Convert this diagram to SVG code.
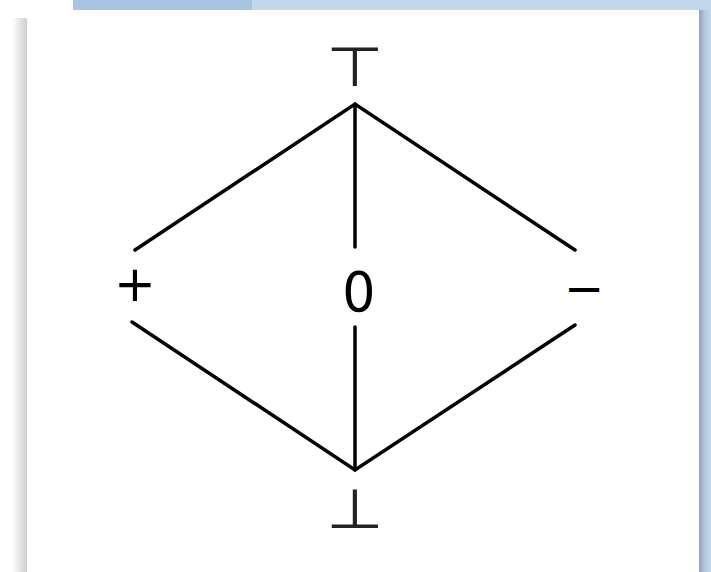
<svg xmlns="http://www.w3.org/2000/svg" width="711" height="572" viewBox="0 0 711 572">
<defs>
<linearGradient id="shL" x1="0" y1="0" x2="1" y2="0">
<stop offset="0" stop-color="#ffffff"/><stop offset="1" stop-color="#cfcfcf"/>
</linearGradient>
<linearGradient id="shR" x1="0" y1="0" x2="1" y2="0">
<stop offset="0" stop-color="#8fa3bb"/><stop offset="0.5" stop-color="#b3c9e2"/><stop offset="1" stop-color="#c3d7ec"/>
</linearGradient>
<style>
.edge{fill:none;stroke:#000;stroke-width:3.5;stroke-linecap:round;stroke-linejoin:miter}
.lbl{font-family:"DejaVu Sans",sans-serif;fill:#000;text-anchor:middle}
.sym{font-family:"DejaVu Sans",sans-serif;fill:#222;text-anchor:middle}
</style>
</defs>
<rect x="0" y="0" width="711" height="572" fill="#ffffff"/>
<rect x="73" y="0" width="179" height="10" fill="#a8c4e3"/>
<rect x="252" y="0" width="459" height="10" fill="#c3d7ec"/>
<rect x="699" y="10" width="12" height="562" fill="url(#shR)"/>
<rect x="12" y="18" width="15" height="554" fill="url(#shL)"/>
<rect x="27" y="10" width="672" height="562" fill="#ffffff"/>
<g id="connectors">
<path class="edge" d="M135,250 L355,104 L575,250"/>
<path class="edge" d="M355,104 L355,247"/>
<path class="edge" d="M132,322 L355,470 L575,325"/>
<path class="edge" d="M355,327 L355,470"/>
</g>
<g id="top"><text class="sym" x="0" y="0" font-size="55" transform="translate(355,86) scale(1.2,1)">⊤</text></g>
<g id="bottom"><text class="sym" x="0" y="0" font-size="55" transform="translate(355,528) scale(1.2,1)">⊥</text></g>
<g id="plus"><text class="lbl" x="135" y="301" font-size="50">+</text></g>
<g id="zero"><text class="lbl" x="359" y="311" font-size="55" transform="translate(359,0) scale(0.95,1) translate(-359,0)">0</text></g>
<g id="minus"><text class="lbl" x="584" y="305" font-size="48">−</text></g>
</svg>
